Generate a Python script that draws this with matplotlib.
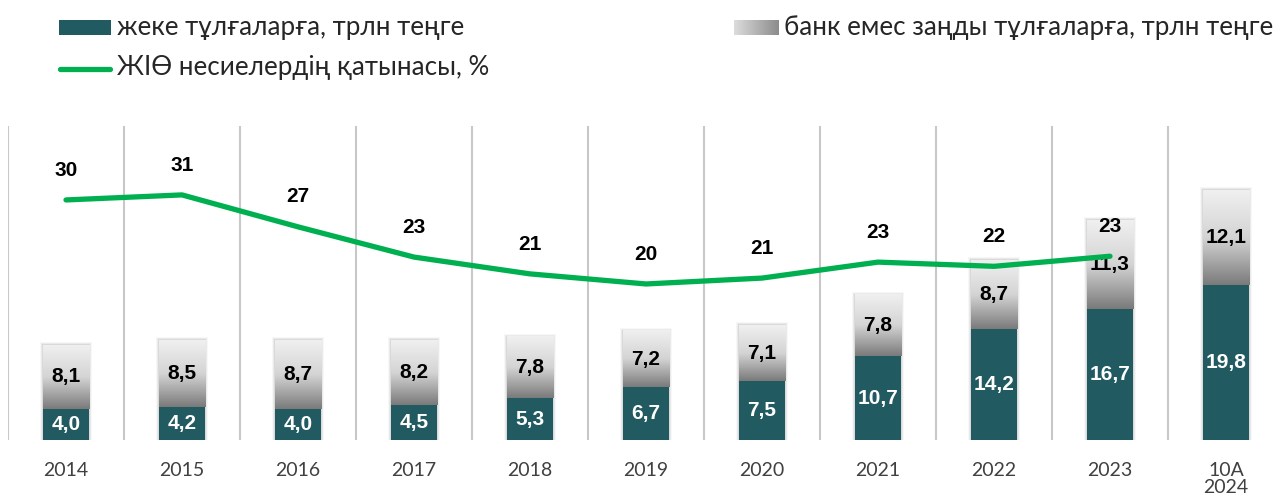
import numpy as np
import matplotlib
matplotlib.use("Agg")
import matplotlib.pyplot as plt
from matplotlib.colors import LinearSegmentedColormap
from matplotlib.patches import Rectangle
from matplotlib.lines import Line2D

categories = ['2014', '2015', '2016', '2017', '2018', '2019', '2020',
              '2021', '2022', '2023', '10А\n2024']
individuals = [4.0, 4.2, 4.0, 4.5, 5.3, 6.7, 7.5, 10.7, 14.2, 16.7, 19.8]
legal_entities = [8.1, 8.5, 8.7, 8.2, 7.8, 7.2, 7.1, 7.8, 8.7, 11.3, 12.1]
gdp_share = [30.0, 30.6, 26.8, 23.2, 21.2, 20.0, 20.7, 22.6, 22.1, 23.3]
gdp_share_labels = ['30', '31', '27', '23', '21', '20', '21', '23', '22', '23']

legend_labels = ['жеке тұлғаларға, трлн теңге',
                 'банк емес заңды тұлғаларға, трлн теңге',
                 'ЖІӨ несиелердің қатынасы, %']

TEAL = '#215a60'
GREEN = '#00b050'
TXT_FAMILY = ['Lato', 'DejaVu Sans']
LBL_FAMILY = ['Liberation Sans', 'DejaVu Sans']
LBL_SIZE = 15

gray_cmap = LinearSegmentedColormap.from_list('g', ['#f0f0f0', '#d4d4d4', '#7a7a7a'])

W, H = 1281, 504
fig = plt.figure(figsize=(W / 100, H / 100), dpi=100)

def fx(p):
    return p / W

def fy(p):
    return 1 - p / H

ax = fig.add_axes([fx(8), fy(440), fx(1276), fy(126) - fy(440)])
x = np.arange(len(categories))
bw = 0.4

# soft shadows
for i in range(len(categories)):
    top = individuals[i] + legal_entities[i]
    for k, a in zip([3, 2, 1], [0.03, 0.05, 0.07]):
        dx = k * 0.0086
        dy = k * 0.127
        ax.add_patch(Rectangle((x[i] - bw / 2 - dx, 0), bw + 2 * dx, top + dy,
                               facecolor='#000000', alpha=a, lw=0, zorder=1))

ax.bar(x, individuals, width=bw, color=TEAL, zorder=3)
grad = np.linspace(1, 0, 256).reshape(-1, 1)
for i in range(len(categories)):
    b = individuals[i]
    t = b + legal_entities[i]
    ax.imshow(grad, extent=[x[i] - bw / 2, x[i] + bw / 2, b, t], cmap=gray_cmap,
              aspect='auto', interpolation='bicubic', zorder=3, origin='lower',
              vmin=0, vmax=1)
    ax.text(x[i], b / 2, f"{individuals[i]:.1f}".replace('.', ','), ha='center',
            va='center', color='white', fontsize=LBL_SIZE, fontweight='bold',
            family=LBL_FAMILY, zorder=5)
    ax.text(x[i], b + legal_entities[i] / 2, f"{legal_entities[i]:.1f}".replace('.', ','),
            ha='center', va='center', color='black', fontsize=LBL_SIZE, fontweight='bold',
            family=LBL_FAMILY, zorder=5)

ax.set_xlim(-0.5, 10.5)
ax.set_ylim(0, 40)
for xv in np.arange(-0.5, 10, 1.0):
    ax.axvline(xv, color='#c8c8c8', lw=1.5, zorder=0)
for s in ax.spines.values():
    s.set_visible(False)
ax.set_yticks([])
ax.set_xticks(x)
ax.set_xticklabels(categories, family=TXT_FAMILY, fontsize=14, color='#404040',
                   fontweight='normal', linespacing=1.0)
ax.tick_params(axis='x', length=0, pad=16)
for lab in ax.get_xticklabels():
    lab.set_verticalalignment('top')

ax2 = ax.twinx()
ax2.set_ylim(1.43, 38.8)
ax2.plot(x[:len(gdp_share)], gdp_share, color=GREEN, lw=3.8, solid_capstyle='round',
         solid_joinstyle='round', zorder=6)
for i, v in enumerate(gdp_share):
    ax2.annotate(gdp_share_labels[i], (x[i], v), xytext=(0, 21.5), textcoords='offset points',
                 ha='center', va='center', fontsize=LBL_SIZE, fontweight='bold',
                 family=LBL_FAMILY, color='black', zorder=7)
ax2.set_yticks([])
for s in ax2.spines.values():
    s.set_visible(False)

# legend
fig.patches.append(Rectangle((fx(59), fy(35)), fx(52), fy(20) - fy(35),
                             transform=fig.transFigure, facecolor=TEAL, lw=0))
fig.text(fx(117), fy(27), legend_labels[0], ha='left', va='center', fontsize=18.7,
         family=TXT_FAMILY, fontweight='normal', color='#262626')
gax = fig.add_axes([fx(734), fy(35), fx(45), fy(20) - fy(35)])
gax.imshow(np.linspace(0, 1, 64).reshape(1, -1), cmap=LinearSegmentedColormap.from_list(
    'h', ['#dcdcdc', '#8c8c8c']), aspect='auto', interpolation='bicubic')
gax.axis('off')
fig.text(fx(784), fy(27), legend_labels[1], ha='left', va='center', fontsize=18.7,
         family=TXT_FAMILY, fontweight='normal', color='#262626')
fig.lines.append(Line2D([fx(60), fx(110)], [fy(69), fy(69)], transform=fig.transFigure,
                        color=GREEN, lw=3.8, solid_capstyle='round'))
fig.text(fx(117), fy(68), legend_labels[2], ha='left', va='center', fontsize=18.7,
         family=TXT_FAMILY, fontweight='normal', color='#262626')

fig.savefig('out.png', dpi=100)
